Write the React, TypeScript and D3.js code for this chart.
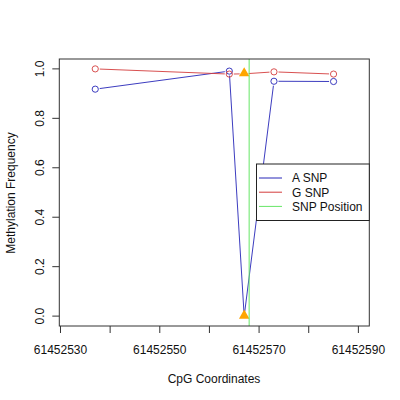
import React from 'react';
import * as d3 from 'd3';

// CpG positions and methylation values
const positions = [61452537, 61452564, 61452567, 61452573, 61452585];
const aSnp = [0.918, 0.991, 0.0, 0.95, 0.949];
const gSnp = [1.0, 0.979, 0.98, 0.988, 0.979];
const snpIndex = 2; // the CpG at the SNP is marked with a triangle
const snpPosition = 61452568;
const xTicks = [61452530, 61452540, 61452550, 61452560, 61452570, 61452580, 61452590];
const xTickLabels = ['61452530', '', '61452550', '', '61452570', '', '61452590'];
const yTicks = [0, 0.2, 0.4, 0.6, 0.8, 1.0];
const legendItems = [
  { label: 'A SNP', color: '#2626b8' },
  { label: 'G SNP', color: '#d43c3c' },
  { label: 'SNP Position', color: '#66e666' },
];

const font = 'Liberation Sans, Arial, sans-serif';

export default function App() {
  const left = 59.3, right = 369.3, top = 59, bottom = 326;
  const x = d3.scaleLinear().domain([61452529.76, 61452592.2]).range([left, right]);
  const y = d3.scaleLinear().domain([-0.04, 1.04]).range([bottom, top]);

  // type="b" style segments: leave a small gap at each point
  const gapSegments = (vals: number[]) => {
    const segs: string[] = [];
    for (let i = 0; i < vals.length - 1; i++) {
      const x1 = x(positions[i]), y1 = y(vals[i]);
      const x2 = x(positions[i + 1]), y2 = y(vals[i + 1]);
      const len = Math.hypot(x2 - x1, y2 - y1);
      const g = 4.5;
      if (len <= 2 * g) continue;
      const ux = (x2 - x1) / len, uy = (y2 - y1) / len;
      segs.push(`M${x1 + ux * g},${y1 + uy * g}L${x2 - ux * g},${y2 - uy * g}`);
    }
    return segs.join('');
  };

  const tri = d3.symbol().type(d3.symbolTriangle).size(48)();

  const series = [
    { vals: aSnp, color: legendItems[0].color },
    { vals: gSnp, color: legendItems[1].color },
  ];

  return (
    <svg width={400} height={400} style={{ position: 'absolute', left: 0, top: 0, background: '#fff' }}
      fontFamily={font}>
      <rect x={0} y={0} width={400} height={400} fill="#fff" />

      {series.map((s, k) => (
        <g key={k}>
          <path d={gapSegments(s.vals)} fill="none" stroke={s.color} strokeWidth={0.9} />
          {s.vals.map((v, i) => i === snpIndex ? null : (
            <circle key={i} cx={x(positions[i])} cy={y(v)} r={3.1} fill="none" stroke={s.color} strokeWidth={0.9} />
          ))}
        </g>
      ))}

      {series.map((s, k) => (
        <path key={k} d={tri} transform={`translate(${x(positions[snpIndex])},${y(s.vals[snpIndex]) - 0.5})`} fill="#ffa500" />
      ))}

      <line x1={x(snpPosition)} x2={x(snpPosition)} y1={top} y2={bottom} stroke={legendItems[2].color} strokeWidth={1} />

      <rect x={left} y={top} width={right - left} height={bottom - top} fill="none" stroke="#333" strokeWidth={1} />

      {/* x axis */}
      {xTicks.map((t, i) => (
        <g key={t}>
          <line x1={x(t)} x2={x(t)} y1={bottom} y2={bottom + 7} stroke="#333" />
          {xTickLabels[i] && (
            <text x={x(t)} y={354} textAnchor="middle" fontSize={12} fill="#111">{xTickLabels[i]}</text>
          )}
        </g>
      ))}

      {/* y axis */}
      {yTicks.map(t => (
        <g key={t}>
          <line x1={left - 7} x2={left} y1={y(t)} y2={y(t)} stroke="#333" />
          <text transform={`translate(44,${y(t)}) rotate(-90)`} textAnchor="middle" fontSize={12} fill="#111">{t.toFixed(1)}</text>
        </g>
      ))}

      <text x={214} y={383} textAnchor="middle" fontSize={12} fill="#111">CpG Coordinates</text>
      <text transform="translate(15,193) rotate(-90)" textAnchor="middle" fontSize={12} fill="#111">Methylation Frequency</text>

      {/* legend */}
      <rect x={256.5} y={164} width={right - 256.5} height={56.5} fill="#fff" stroke="#222" strokeWidth={1} />
      {legendItems.map((d, i) => (
        <g key={d.label}>
          <line x1={259} x2={282} y1={178 + i * 14.2} y2={178 + i * 14.2} stroke={d.color} strokeWidth={1} />
          <text x={292} y={182.3 + i * 14.2} fontSize={12} fill="#111">{d.label}</text>
        </g>
      ))}
    </svg>
  );
}
